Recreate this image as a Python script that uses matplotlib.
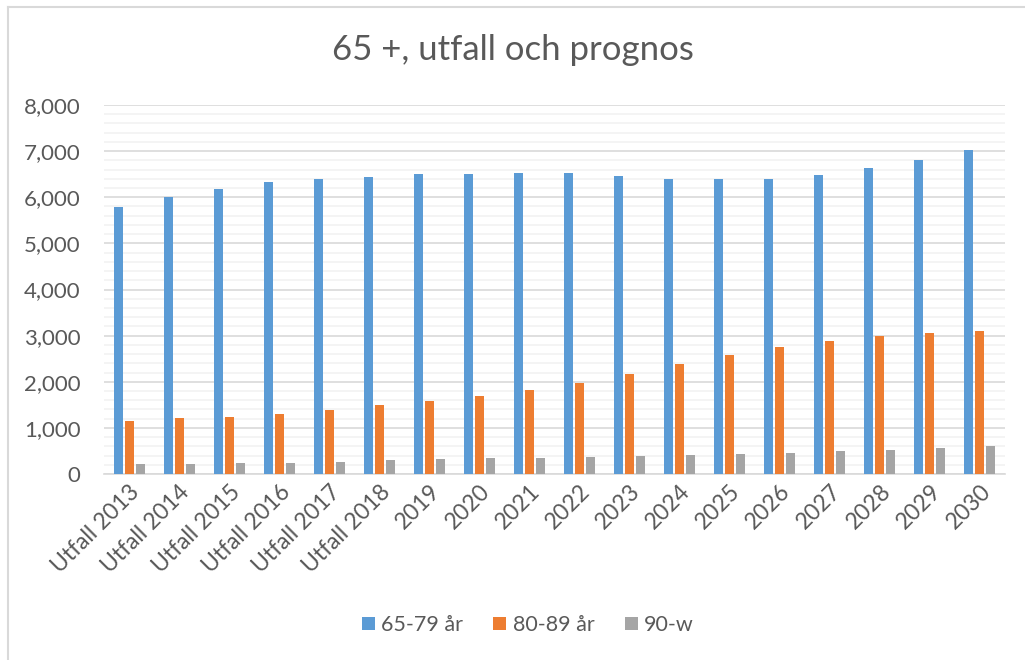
import numpy as np
import matplotlib
matplotlib.use("Agg")
import matplotlib.pyplot as plt
from matplotlib.lines import Line2D

plt.rcParams['font.family'] = ['Lato', 'DejaVu Sans']

categories = ["Utfall 2013", "Utfall 2014", "Utfall 2015", "Utfall 2016", "Utfall 2017",
              "Utfall 2018", "2019", "2020", "2021", "2022", "2023", "2024", "2025",
              "2026", "2027", "2028", "2029", "2030"]
age_65_79 = [5790, 6000, 6180, 6335, 6400, 6440, 6500, 6510, 6530, 6530,
             6470, 6390, 6390, 6400, 6480, 6630, 6810, 7035]
age_80_89 = [1150, 1208, 1236, 1308, 1381, 1490, 1583, 1692, 1822, 1967,
             2162, 2379, 2581, 2755, 2885, 2993, 3051, 3095]
age_90_w = [217, 224, 232, 246, 260, 304, 325, 340, 347, 369,
            398, 419, 434, 463, 499, 528, 571, 615]
series_names = ["65-79 år", "80-89 år", "90-w"]
colors = ["#5b9bd5", "#ed7d31", "#a5a5a5"]

text_col = "#595959"

fig = plt.figure(figsize=(10.25, 6.6), dpi=100)
ax = fig.add_axes([104 / 1025, 1 - 474 / 660, (1005 - 104) / 1025, (474 - 105) / 660])

x = np.arange(len(categories))
w = 0.18
for i, (vals, name, c) in enumerate(zip([age_65_79, age_80_89, age_90_w], series_names, colors)):
    ax.bar(x + (i - 1) * 0.22, vals, width=w, color=c, label=name, zorder=3)

ax.set_xlim(-0.5, len(categories) - 0.5)
ax.set_ylim(0, 8000)
ax.set_yticks(np.arange(0, 8001, 1000))
ax.set_yticks(np.arange(0, 8001, 200), minor=True)
ax.set_yticklabels([f"{v:,}" for v in range(0, 8001, 1000)], fontsize=16, color=text_col)
ax.set_xticks(x)
ax.set_xticklabels(categories, rotation=45, ha="right", rotation_mode="anchor",
                   fontsize=16.5, color=text_col)
ax.tick_params(axis="both", which="both", length=0)
ax.tick_params(axis="y", pad=17)
ax.tick_params(axis="x", pad=5)

ax.grid(axis="y", which="major", color="#d9d9d9", linewidth=1.2, zorder=0)
ax.grid(axis="y", which="minor", color="#f2f2f2", linewidth=1.2, zorder=0)
for s in ["top", "right", "left"]:
    ax.spines[s].set_visible(False)
ax.spines["bottom"].set_color("#d9d9d9")
ax.spines["bottom"].set_linewidth(1.2)

fig.text(0.5, 1 - 50 / 660, "65 +, utfall och prognos", ha="center", va="center",
         fontsize=25, color=text_col)

fig.legend(loc="center", bbox_to_anchor=(0.515, 1 - 625 / 660), ncol=3, frameon=False,
           fontsize=15.5, handlelength=0.6, handleheight=0.6, handletextpad=0.3,
           columnspacing=1.4, labelcolor=text_col)

# chart frame (cropped: only top and left edges visible)
fig.add_artist(Line2D([8 / 1025, 1], [1 - 7 / 660, 1 - 7 / 660], color="#d9d9d9", linewidth=1.5))
fig.add_artist(Line2D([8 / 1025, 8 / 1025], [0, 1 - 7 / 660], color="#d9d9d9", linewidth=1.5))

fig.savefig("out.png", dpi=100, facecolor="white")
